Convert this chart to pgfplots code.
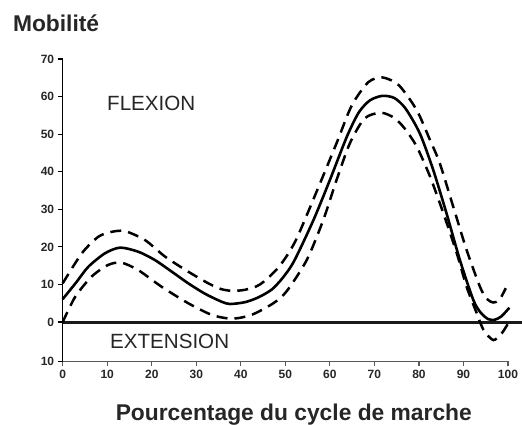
\documentclass[border=0pt]{standalone}
\usepackage{pgfplots}
\pgfplotsset{compat=1.18}
\usepackage{fontspec}
\setmainfont{Liberation Sans}
\begin{document}
\begin{tikzpicture}
\path[use as bounding box] (-62.7pt,-63.5pt) rectangle (459.3pt,361.5pt);
\begin{axis}[
  at={(0pt,0pt)}, anchor=south west,
  scale only axis, width=445.3pt, height=302.5pt,
  xmin=0, xmax=100, ymin=-10.5, ymax=70,
  axis x line*=bottom, axis y line*=left,
  x axis line style={-, line width=1.4pt, black!65},
  y axis line style={-, line width=1.4pt, black},
  xtick={0,10,...,100},
  ytick={-10.5,0,10,20,30,40,50,60,70},
  yticklabels={10,0,10,20,30,40,50,60,70},
  tick align=outside, major tick length=5pt,
  x tick style={line width=1.2pt, black!65},
  y tick style={line width=1.2pt, black},
  /pgf/number format/assume math mode=true,
  tick label style={font=\bfseries\fontsize{12}{14}\selectfont, text=black!85},
  clip=false,
]
\draw[line width=3pt, black!90] (axis cs:0,0) -- (axis cs:103.1,0);
% mean
\addplot[black, line width=2.6pt, smooth, tension=0.45] coordinates {
(0,6.1) (3,10.5) (5.75,14.7) (9.5,18.3) (12.9,19.8) (17,18.7) (20.7,16.5) (24.5,13.4)
(28.2,10.3) (32,7.5) (35.7,5.4) (37.6,4.8) (41,5.3) (44,6.6) (47,8.7) (49.5,11.9)
(52,16.3) (56.3,27.1) (60,37.8) (63.8,49.3) (66.5,55.8) (69,59) (71.8,60.2)
(74.5,59.6) (77,56.8) (80.2,50.2) (83.2,40.5) (86.2,28.9) (89.2,16.5) (92.2,5.9) (93.8,2.6)
(95.5,0.8) (97,0.6) (98.5,1.5) (100.3,3.8)};
% upper
\addplot[black, line width=2.5pt, smooth, tension=0.45, dash pattern=on 11pt off 7pt] coordinates {
(0,10.3) (4.3,18.3) (8,22.7) (11,24) (14,24.2) (18.5,21.8) (23,17.4) (28.2,13.4)
(32.7,10.3) (35.5,8.8) (38,8.3) (41,8.6) (44.3,10) (48.5,14.6) (52.2,21.4) (56.7,33.8)
(61.5,47.6) (64.9,57.6) (68.6,63.8) (71.8,65.1) (75.5,63) (79.5,56.4) (82.5,48.4)
(84.7,42.2) (87.7,30.7) (90.7,19.2) (93.7,9.4) (95.2,6.2) (96.7,5.2) (98,5.8) (98.9,7.6) (99.5,9)};
% lower
\addplot[black, line width=2.5pt, smooth, tension=0.45, dash pattern=on 11pt off 7pt] coordinates {
(0,0) (2.8,6.7) (6.5,12.1) (10.2,15.2) (13.2,15.8) (17,13.8) (22.2,9.4) (28.2,5)
(33.5,1.9) (38,0.9) (42.4,1.9) (47.3,5) (50.3,8.2) (54.8,16.5) (58.5,27.1) (61.5,37.8)
(64.5,47.6) (67.8,54.2) (71.5,55.7) (74.5,54.3) (76.8,51.5) (79.5,46.7) (82.5,38.7)
(85.5,28.9) (88.5,18.3) (90.7,9.4) (93,2.3) (94.5,-2.1) (96.7,-4.8) (98.6,-3) (100.2,0)};
\node[anchor=base west, inner sep=0pt, font=\bfseries\fontsize{22.8}{26}\selectfont, text=black!85] at (axis cs:-11.2,77.2) {Mobilité};
\node[anchor=base west, inner sep=0pt, font=\fontsize{20.6}{24}\selectfont, text=black!85] at (axis cs:9.95,56.2) {FLEXION};
\node[anchor=base west, inner sep=0pt, font=\fontsize{20.6}{24}\selectfont, text=black!85] at (axis cs:10.6,-7.0) {EXTENSION};
\node[anchor=base, inner sep=0pt, font=\bfseries\fontsize{22.8}{26}\selectfont, text=black!85] at (axis cs:51.9,-26.1) {Pourcentage du cycle de marche};
\end{axis}
\end{tikzpicture}
\end{document}
